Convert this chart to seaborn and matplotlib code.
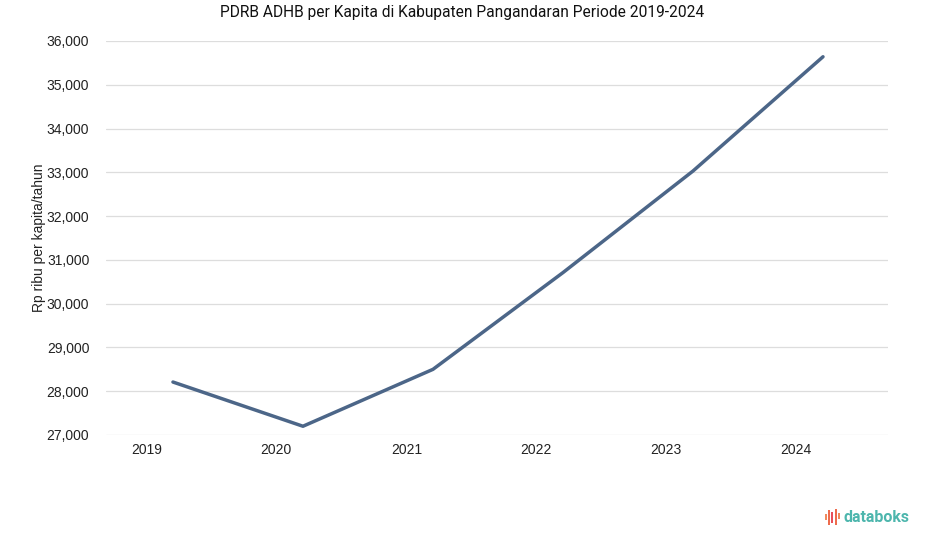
import matplotlib
matplotlib.use("Agg")
import matplotlib.pyplot as plt
import seaborn as sns
import pandas as pd
import numpy as np
from matplotlib.patches import Rectangle

years = ["2019", "2020", "2021", "2022", "2023", "2024"]
values = [28210, 27200, 28500, 30710, 33030, 35640]
yticks = [27000, 28000, 29000, 30000, 31000, 32000, 33000, 34000, 35000, 36000]

sns.set_theme(style="white")
plt.rcParams['font.family'] = ['Liberation Sans', 'DejaVu Sans']

df = pd.DataFrame({"idx": np.arange(len(years)), "val": values})

fig = plt.figure(figsize=(9.25, 5.47), dpi=100)
ax = fig.add_axes([106/925, 1-435/547, (888-106)/925, (435-41)/547])

sns.lineplot(data=df, x="idx", y="val", ax=ax, color="#4c6688", linewidth=2.5)

ax.set_ylim(27000, 36000)
ax.set_xlim(-0.515, 5.5)
ax.set_yticks(yticks)
ax.set_yticklabels([f"{v:,}" for v in yticks], fontsize=10, color="#222222")
ax.set_xticks(np.arange(len(years)) - 0.205)
ax.set_xticklabels(years, fontsize=10, color="#222222")
ax.yaxis.grid(True, color="#dddddd", linewidth=0.9)
ax.xaxis.grid(False)
for s in ax.spines.values():
    s.set_visible(False)
ax.tick_params(axis="y", length=8, color="#dddddd", width=0.9, pad=4)
ax.tick_params(axis="x", length=0, pad=6)
ax.set_xlabel("")
ax.set_ylabel("Rp ribu per kapita/tahun", fontsize=10, color="#222222")
ax.yaxis.set_label_coords(-0.077, 0.5)

fig.text(0.5, 1-12/547, "PDRB ADHB per Kapita di Kabupaten Pangandaran Periode 2019-2024",
         ha="center", va="center", fontsize=11.2, color="#111111", family=['Roboto', 'DejaVu Sans'])

# databoks logo
fig.text(843/925, 1-518/547, "databoks", ha="left", va="center", fontsize=11.5,
         color="#4db6ad", fontweight="bold", family=['Roboto', 'DejaVu Sans'])
bar_top = [514, 510, 512, 509, 513]
bar_bot = [520, 525, 523, 525, 519]
cols = ["#f08a5d", "#ee6c4d", "#e8505b", "#ee6c4d", "#f08a5d"]
for i, (t, b, c) in enumerate(zip(bar_top, bar_bot, cols)):
    fig.add_artist(Rectangle(((825 + i*3.2)/925, 1-b/547), 2.0/925, (b-t)/547,
                             transform=fig.transFigure, color=c, linewidth=0))

fig.savefig("out.png", dpi=100, facecolor="white")
